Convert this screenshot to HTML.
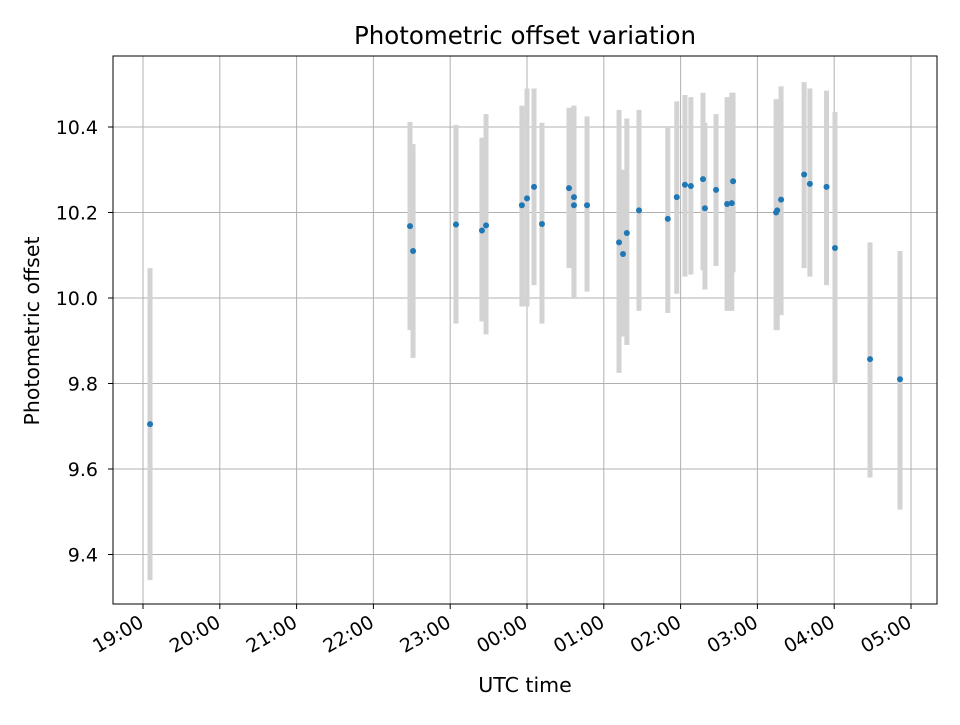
<!DOCTYPE html>
<html><head><meta charset="utf-8"><style>
body{margin:0;background:#fff;font-family:"Liberation Sans","DejaVu Sans",sans-serif}
</style></head><body>
<svg id="chart" width="960" height="720" xmlns="http://www.w3.org/2000/svg" font-family="DejaVu Sans, Liberation Sans, sans-serif">
<rect width="960" height="720" fill="#fff"/>
<text x="525" y="44" text-anchor="middle" font-size="24.5">Photometric offset variation</text>
<g id="grid"></g><g id="bars"></g><g id="pts"></g><g id="axes"></g>
<rect x="113" y="56" width="824" height="548" fill="none" stroke="#000" stroke-width="1"/>
<text x="525" y="692" text-anchor="middle" font-size="20.5">UTC time</text>
<text transform="translate(39,331) rotate(-90)" text-anchor="middle" font-size="20.5">Photometric offset</text>
</svg>
<script>
// minutes since 19:00
const times=[5.5,208.6,211,244.5,264.8,268,296,300,305.5,311.7,332.8,336.7,336.7,346.9,371.9,375,378,387.5,410,417,423.4,428,437.5,439,447.7,456.3,460,461,494.6,495.5,498.5,516.5,521,534,540.6,568,591.4];
const values=[9.705,10.168,10.11,10.172,10.158,10.17,10.217,10.233,10.26,10.173,10.257,10.236,10.217,10.217,10.13,10.103,10.152,10.205,10.185,10.236,10.265,10.262,10.278,10.21,10.253,10.22,10.222,10.273,10.2,10.205,10.23,10.289,10.267,10.26,10.117,9.857,9.81];
const lows=[9.34,9.925,9.86,9.94,9.945,9.915,9.98,9.98,10.03,9.94,10.07,10.0,10.0,10.015,9.825,9.91,9.89,9.97,9.965,10.01,10.05,10.055,10.065,10.02,10.075,9.97,9.97,10.06,9.925,9.925,9.96,10.07,10.05,10.03,9.80,9.58,9.505];
const highs=[10.07,10.412,10.36,10.405,10.375,10.43,10.45,10.49,10.49,10.41,10.445,10.45,10.45,10.425,10.44,10.30,10.42,10.44,10.40,10.46,10.475,10.47,10.48,10.41,10.43,10.47,10.48,10.48,10.465,10.465,10.495,10.505,10.49,10.485,10.435,10.13,10.11];
const xTickLabels=["19:00","20:00","21:00","22:00","23:00","00:00","01:00","02:00","03:00","04:00","05:00"];
const yTicks=[9.4,9.6,9.8,10.0,10.2,10.4];
const NS="http://www.w3.org/2000/svg";
const X=m=>143+m*76.8/60;
const Y=v=>298-(v-10)*427.5;
function mk(tag,attrs,parent,txt){const e=document.createElementNS(NS,tag);for(const k in attrs)e.setAttribute(k,attrs[k]);if(txt!==undefined)e.textContent=txt;document.getElementById(parent).appendChild(e);return e;}
yTicks.forEach((t,i)=>{
 const y=Y(t);
 const g=mk('line',{x1:113,x2:937,y1:y,y2:y,stroke:'#b0b0b0','stroke-width':1},'grid');
 
 
 const tk=mk('line',{x1:108,x2:113,y1:y,y2:y,stroke:'#000'},'axes');
 
 
 const l=mk('text',{x:98,y:y+7,'text-anchor':'end','font-size':19},'axes',t.toFixed(1));
 
 
});
xTickLabels.forEach((t,i)=>{
 const x=X(i*60);
 const g=mk('line',{x1:x,x2:x,y1:56,y2:604,stroke:'#b0b0b0','stroke-width':1},'grid');
 
 
 const tk=mk('line',{x1:x,x2:x,y1:604,y2:609,stroke:'#000'},'axes');
 
 
 const l=mk('text',{transform:`translate(${x+2},${626}) rotate(-30)`,'text-anchor':'end','font-size':19},'axes',t);
 
 
});
times.forEach((m,i)=>{
 const x=X(m);
 const b=mk('line',{x1:x,x2:x,y1:Y(lows[i]),y2:Y(highs[i]),stroke:'#d3d3d3','stroke-width':5},'bars');
 
 
 const p=mk('circle',{cx:x,cy:Y(values[i]),r:3,fill:'#1f77b4'},'pts');
 
 
});
</script>
</body></html>
